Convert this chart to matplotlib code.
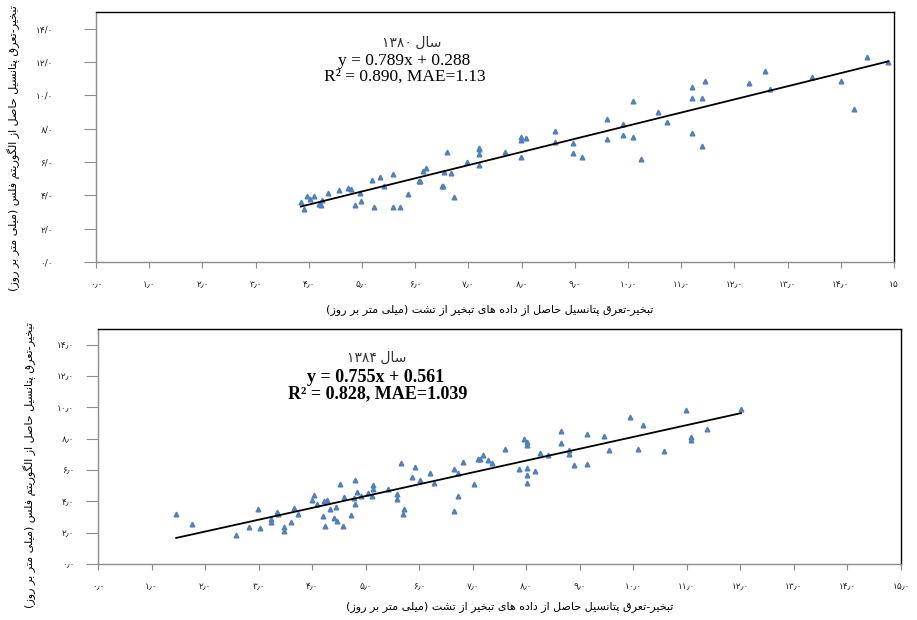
import numpy as np
import matplotlib
matplotlib.use("Agg")
import matplotlib.pyplot as plt
from matplotlib import font_manager
from matplotlib.ft2font import FT2Font

# ---- data ----
# 1380
x80 = [3.85, 3.91, 3.97, 4.03, 4.10, 4.20, 4.22, 4.25, 4.37, 4.56, 4.73, 4.79, 4.86, 4.96,
       4.98, 5.19, 5.23, 5.34, 5.42, 5.59, 5.59, 5.71, 5.86, 6.07, 6.09, 6.14, 6.20, 6.50,
       6.53, 6.55, 6.60, 6.68, 6.72, 6.97, 7.20, 7.20, 7.20, 7.20, 7.69, 7.99, 7.99, 8.09,
       7.99, 8.63, 8.63, 8.97, 8.97, 9.13, 9.61, 9.61, 9.91, 9.91, 10.10, 10.10, 10.25,
       10.56, 10.74, 11.20, 11.20, 11.20, 11.39, 11.39, 11.44, 12.27, 12.57, 12.67, 13.45,
       14.00, 14.24, 14.49, 14.89]
y80 = [3.58, 3.16, 3.96, 3.76, 3.96, 3.48, 3.40, 3.72, 4.16, 4.32, 4.46, 4.36, 3.40, 4.16,
       3.66, 4.90, 3.32, 5.08, 4.56, 5.26, 3.32, 3.32, 4.08, 4.84, 4.84, 5.46, 5.62, 4.56,
       4.56, 5.40, 6.58, 5.32, 3.88, 6.00, 6.86, 6.76, 6.46, 5.84, 6.62, 7.48, 7.32, 7.44,
       6.32, 7.88, 7.22, 7.12, 6.52, 6.32, 8.60, 7.38, 8.30, 7.62, 9.66, 7.50, 6.20,
       8.98, 8.42, 10.52, 9.84, 7.74, 9.84, 6.98, 10.84, 10.72, 11.46, 10.38, 11.08,
       10.84, 9.16, 12.28, 12.02]
# 1384
x84 = [1.46, 1.76, 2.57, 2.83, 2.98, 3.02, 3.23, 3.23, 3.35, 3.37, 3.48, 3.48, 3.60, 3.67,
       3.73, 4.00, 4.03, 4.09, 4.21, 4.24, 4.22, 4.27, 4.34, 4.40, 4.44, 4.46, 4.52, 4.57,
       4.59, 4.73, 4.78, 4.80, 4.80, 4.83, 4.91, 5.05, 5.11, 5.13, 5.13, 5.41, 5.58, 5.58,
       5.66, 5.71, 5.69, 5.87, 5.92, 6.02, 6.21, 6.27, 6.65, 6.65, 6.72, 6.73, 6.82, 7.02,
       7.09, 7.13, 7.20, 7.29, 7.36, 7.61, 7.86, 7.95, 8.01, 8.01, 8.01, 8.01, 8.01, 8.16,
       8.25, 8.40, 8.65, 8.65, 8.80, 8.80, 8.90, 9.14, 9.14, 9.45, 9.54, 9.94, 10.09,
       10.18, 10.57, 10.98, 11.07, 11.07, 11.38, 12.01]
y84 = [3.19, 2.55, 1.83, 2.36, 3.53, 2.28, 2.89, 2.66, 3.30, 3.19, 2.36, 2.11, 2.66, 3.55,
       3.19, 4.08, 4.40, 3.83, 3.06, 2.43, 4.02, 4.08, 3.53, 2.91, 3.64, 2.74, 5.13, 2.43,
       4.28, 3.11, 4.21, 5.34, 3.83, 4.59, 4.34, 4.51, 4.34, 5.04, 4.76, 4.78, 4.49, 4.13,
       6.45, 3.53, 3.19, 5.57, 6.17, 5.38, 5.83, 5.17, 6.08, 3.40, 4.36, 5.79, 6.51, 5.13,
       6.70, 6.70, 6.94, 6.62, 6.43, 7.34, 6.04, 7.98, 7.79, 7.60, 6.11, 5.66, 5.15, 5.91,
       7.08, 6.96, 8.49, 7.72, 7.28, 7.00, 6.30, 8.32, 6.36, 8.17, 7.28, 9.40, 7.34,
       8.87, 7.19, 9.85, 8.08, 7.91, 8.62, 9.91]

fit80 = (0.789, 0.288)
fit84 = (0.755, 0.561)

xlabel = "تبخیر-تعرق پتانسیل حاصل از داده های تبخیر از تشت (میلی متر بر روز)"
ylabel = "تبخیر-تعرق پتانسیل حاصل از الگوریتم فلس (میلی متر بر روز)"

# ---- small persian shaper (matplotlib has no arabic shaping / bidi) ----
FORMS = {
    'ا': (0xFE8D, 0xFE8E, None, None), 'آ': (0xFE81, 0xFE82, None, None),
    'ب': (0xFE8F, 0xFE90, 0xFE91, 0xFE92), 'پ': (0xFB56, 0xFB57, 0xFB58, 0xFB59),
    'ت': (0xFE95, 0xFE96, 0xFE97, 0xFE98), 'ح': (0xFEA1, 0xFEA2, 0xFEA3, 0xFEA4),
    'خ': (0xFEA5, 0xFEA6, 0xFEA7, 0xFEA8), 'د': (0xFEA9, 0xFEAA, None, None),
    'ر': (0xFEAD, 0xFEAE, None, None), 'ز': (0xFEAF, 0xFEB0, None, None),
    'س': (0xFEB1, 0xFEB2, 0xFEB3, 0xFEB4), 'ش': (0xFEB5, 0xFEB6, 0xFEB7, 0xFEB8),
    'ص': (0xFEB9, 0xFEBA, 0xFEBB, 0xFEBC), 'ع': (0xFEC9, 0xFECA, 0xFECB, 0xFECC),
    'ف': (0xFED1, 0xFED2, 0xFED3, 0xFED4), 'ق': (0xFED5, 0xFED6, 0xFED7, 0xFED8),
    'گ': (0xFB92, 0xFB93, 0xFB94, 0xFB95), 'ل': (0xFEDD, 0xFEDE, 0xFEDF, 0xFEE0),
    'م': (0xFEE1, 0xFEE2, 0xFEE3, 0xFEE4), 'ن': (0xFEE5, 0xFEE6, 0xFEE7, 0xFEE8),
    'ه': (0xFEE9, 0xFEEA, 0xFEEB, 0xFEEC), 'و': (0xFEED, 0xFEEE, None, None),
    'ی': (0xFBFC, 0xFBFD, 0xFBFE, 0xFBFF),
}
_font = FT2Font(font_manager.findfont("DejaVu Sans"))
_backup = {'ی': (0xFEEF, 0xFEF0, 0xFEF3, 0xFEF4), 'پ': (0xFE8F, 0xFE90, 0xFE91, 0xFE92),
           'گ': (0xFED9, 0xFEDA, 0xFEDB, 0xFEDC)}
for k, v in _backup.items():
    if any(_font.get_char_index(g) == 0 for g in FORMS[k] if g):
        FORMS[k] = v


def shape(word):
    out = []
    for i, c in enumerate(word):
        if c not in FORMS:
            out.append(c)
            continue
        prev = word[i - 1] if i > 0 else None
        nxt = word[i + 1] if i + 1 < len(word) else None
        jp = prev in FORMS and FORMS[prev][2] is not None
        jn = FORMS[c][2] is not None and nxt in FORMS
        iso, fin, ini, med = FORMS[c]
        g = med if (jp and jn) else fin if jp else ini if jn else iso
        out.append(chr(g))
    return ''.join(out)


def fa(text):
    vis = []
    for w in reversed(text.split(' ')):
        if any(c in FORMS for c in w):
            w = shape(w)[::-1].translate(str.maketrans('()', ')('))
        vis.append(w)
    return ' '.join(vis)


digits = str.maketrans('0123456789', '۰۱۲۳۴۵۶۷۸۹')


def num(v, sep='٫', dec=True):
    s = str(v).translate(digits)
    return s + sep + '۰' if dec else s


W, H = 917, 620
fig = plt.figure(figsize=(W / 100, H / 100), dpi=100)
blue = '#4F81BD'
grey = '#8c8c8c'


def style(ax):
    for s in ['top', 'right']:
        ax.spines[s].set_color('black')
        ax.spines[s].set_linewidth(1.0)
    for s in ['left', 'bottom']:
        ax.spines[s].set_color(grey)
        ax.spines[s].set_linewidth(1.0)
    ax.tick_params(axis='y', direction='out', length=9, color=grey, labelsize=6.5,
                   labelcolor='#222222')
    ax.tick_params(axis='x', direction='out', length=4, color=grey, labelsize=6.5,
                   labelcolor='#222222', pad=9)
    ax.set_xlim(0, 15)
    ax.set_ylim(0, 15)


def fx(px):
    return px / W


def fy(py):
    return 1 - py / H


serif = ['Liberation Serif', 'DejaVu Sans']

# top panel
ax1 = fig.add_axes([fx(96), fy(262), fx(894) - fx(96), fy(12) - fy(262)])
style(ax1)
ax1.plot(x80, y80, linestyle='none', marker='^', ms=3.4, color=blue, mec=blue)
xs = np.array([min(x80), max(x80)])
ax1.plot(xs, fit80[0] * xs + fit80[1], color='black', lw=1.3)
ax1.set_yticks(range(0, 15, 2))
ax1.set_yticklabels([num(v, '/') for v in range(0, 15, 2)])
ax1.tick_params(axis='y', pad=22)
ax1.set_xticks(range(0, 16))
ax1.set_xticklabels([num(v) for v in range(0, 15)] + [num(15, dec=False)])

fig.text(fx(412), fy(43), fa("سال ۱۳۸۰"), ha='center', va='center', fontsize=10,
         family=serif, color='#333333')
fig.text(fx(404), fy(61), "y = 0.789x + 0.288", ha='center', va='center',
         fontsize=12.5, family=serif)
fig.text(fx(405), fy(77), "R² = 0.890, MAE=1.13", ha='center', va='center',
         fontsize=12.5, family=serif)
fig.text(fx(490), fy(310), fa(xlabel), ha='center', va='center', fontsize=8)
fig.text(fx(14), fy(148), fa(ylabel), ha='center', va='center', rotation=90, fontsize=8)

# bottom panel
ax2 = fig.add_axes([fx(98), fy(564), fx(901) - fx(98), fy(329) - fy(564)])
style(ax2)
ax2.plot(x84, y84, linestyle='none', marker='^', ms=3.4, color=blue, mec=blue)
xs = np.array([min(x84), max(x84)])
ax2.plot(xs, fit84[0] * xs + fit84[1], color='black', lw=1.3)
ax2.set_yticks(range(0, 15, 2))
ax2.set_yticklabels([num(v) for v in range(0, 15, 2)])
ax2.tick_params(axis='y', pad=8)
ax2.set_xticks(range(0, 16))
ax2.set_xticklabels([num(v) for v in range(0, 16)])

fig.text(fx(377), fy(358), fa("سال ۱۳۸۴"), ha='center', va='center', fontsize=10,
         family=serif, color='#333333')
fig.text(fx(376), fy(377), "y = 0.755x + 0.561", ha='center', va='center',
         fontsize=13, family=serif, weight='bold')
fig.text(fx(378), fy(394), "R² = 0.828, MAE=1.039", ha='center', va='center',
         fontsize=13, family=serif, weight='bold')
fig.text(fx(510), fy(607), fa(xlabel), ha='center', va='center', fontsize=8)
fig.text(fx(30), fy(465), fa(ylabel), ha='center', va='center', rotation=90, fontsize=8)

fig.savefig('out.png', dpi=100)
